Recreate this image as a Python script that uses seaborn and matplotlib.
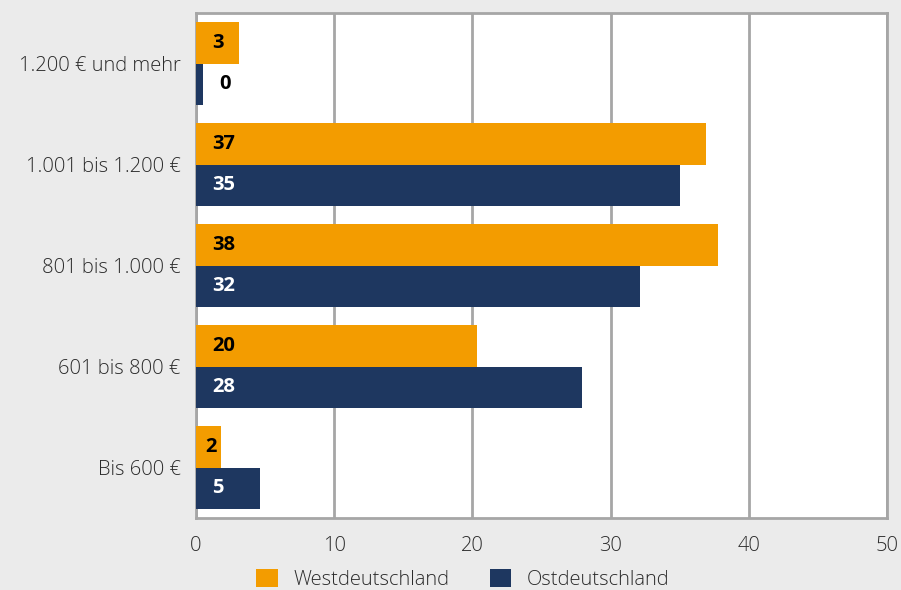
import matplotlib
matplotlib.use("Agg")
import matplotlib.pyplot as plt
import seaborn as sns
import pandas as pd
from matplotlib.patches import Patch

categories = ["1.200 € und mehr", "1.001 bis 1.200 €", "801 bis 1.000 €", "601 bis 800 €", "Bis 600 €"]
west_values = [3.1, 36.9, 37.8, 20.3, 1.8]
ost_values = [0.5, 35.0, 32.1, 27.9, 4.6]
west_labels = ["3", "37", "38", "20", "2"]
ost_labels = ["0", "35", "32", "28", "5"]
series = ["Westdeutschland", "Ostdeutschland"]
x_ticks = [0, 10, 20, 30, 40, 50]

BG = "#ebebeb"
ORANGE = "#f39c00"
NAVY = "#1e3760"
GRID = "#a6a6a6"
TXT = "#2b2b2b"

sns.set_theme(style="white")
plt.rcParams["font.family"] = ["Open Sans", "DejaVu Sans"]

df = pd.DataFrame({
    "cat": categories * 2,
    "val": west_values + ost_values,
    "region": [series[0]] * len(categories) + [series[1]] * len(categories),
})

fig = plt.figure(figsize=(9.01, 5.90), dpi=100, facecolor=BG)
ax = fig.add_axes([196 / 901, 1 - 518 / 590, (887 - 196) / 901, (518 - 13) / 590])
ax.set_facecolor("white")

sns.barplot(data=df, y="cat", x="val", hue="region", order=categories, hue_order=series,
            palette=[ORANGE, NAVY], saturation=1, width=0.82, orient="h", legend=False, ax=ax,
            edgecolor="none", linewidth=0, zorder=3)

ax.set_xlim(0, 50)
ax.set_ylim(len(categories) - 0.5, -0.5)
ax.set_xticks(x_ticks)
ax.set_xticklabels([str(t) for t in x_ticks], fontsize=14.5, color=TXT, fontweight="light")
for t in ax.get_yticklabels():
    t.set_fontweight("light")
ax.tick_params(axis="y", labelsize=14.5, labelcolor=TXT, length=0, pad=11)
ax.tick_params(axis="x", length=8, width=2, color=GRID, direction="out", pad=5)
ax.set_xlabel("")
ax.set_ylabel("")
ax.grid(axis="x", color=GRID, linewidth=2, zorder=0)
ax.set_axisbelow(True)
for s in ax.spines.values():
    s.set_color(GRID)
    s.set_linewidth(2)

for cont, labels, tcol in [(ax.containers[0], west_labels, "black"), (ax.containers[1], ost_labels, "white")]:
    for bar, lab in zip(cont, labels):
        w = bar.get_width()
        yc = bar.get_y() + bar.get_height() / 2
        if w > 2.5:
            xpos, col = 1.15, tcol
        elif w > 1:
            xpos, col = 0.65, tcol
        else:
            xpos, col = 1.65, "black"
        ax.text(xpos, yc, lab, ha="left", va="center", fontsize=14.5,
                fontweight="bold", color=col, zorder=5)

handles = [Patch(facecolor=ORANGE, edgecolor="none"), Patch(facecolor=NAVY, edgecolor="none")]
leg = fig.legend(handles, series, loc="center", bbox_to_anchor=(0.514, 0.018), ncol=2, frameon=False,
                 fontsize=14.5, handlelength=1.05, handleheight=1.05, columnspacing=2.0, handletextpad=0.8,
                 labelcolor=TXT)
for t in leg.get_texts():
    t.set_fontweight("light")

fig.savefig("out.png", dpi=100, facecolor=BG)
